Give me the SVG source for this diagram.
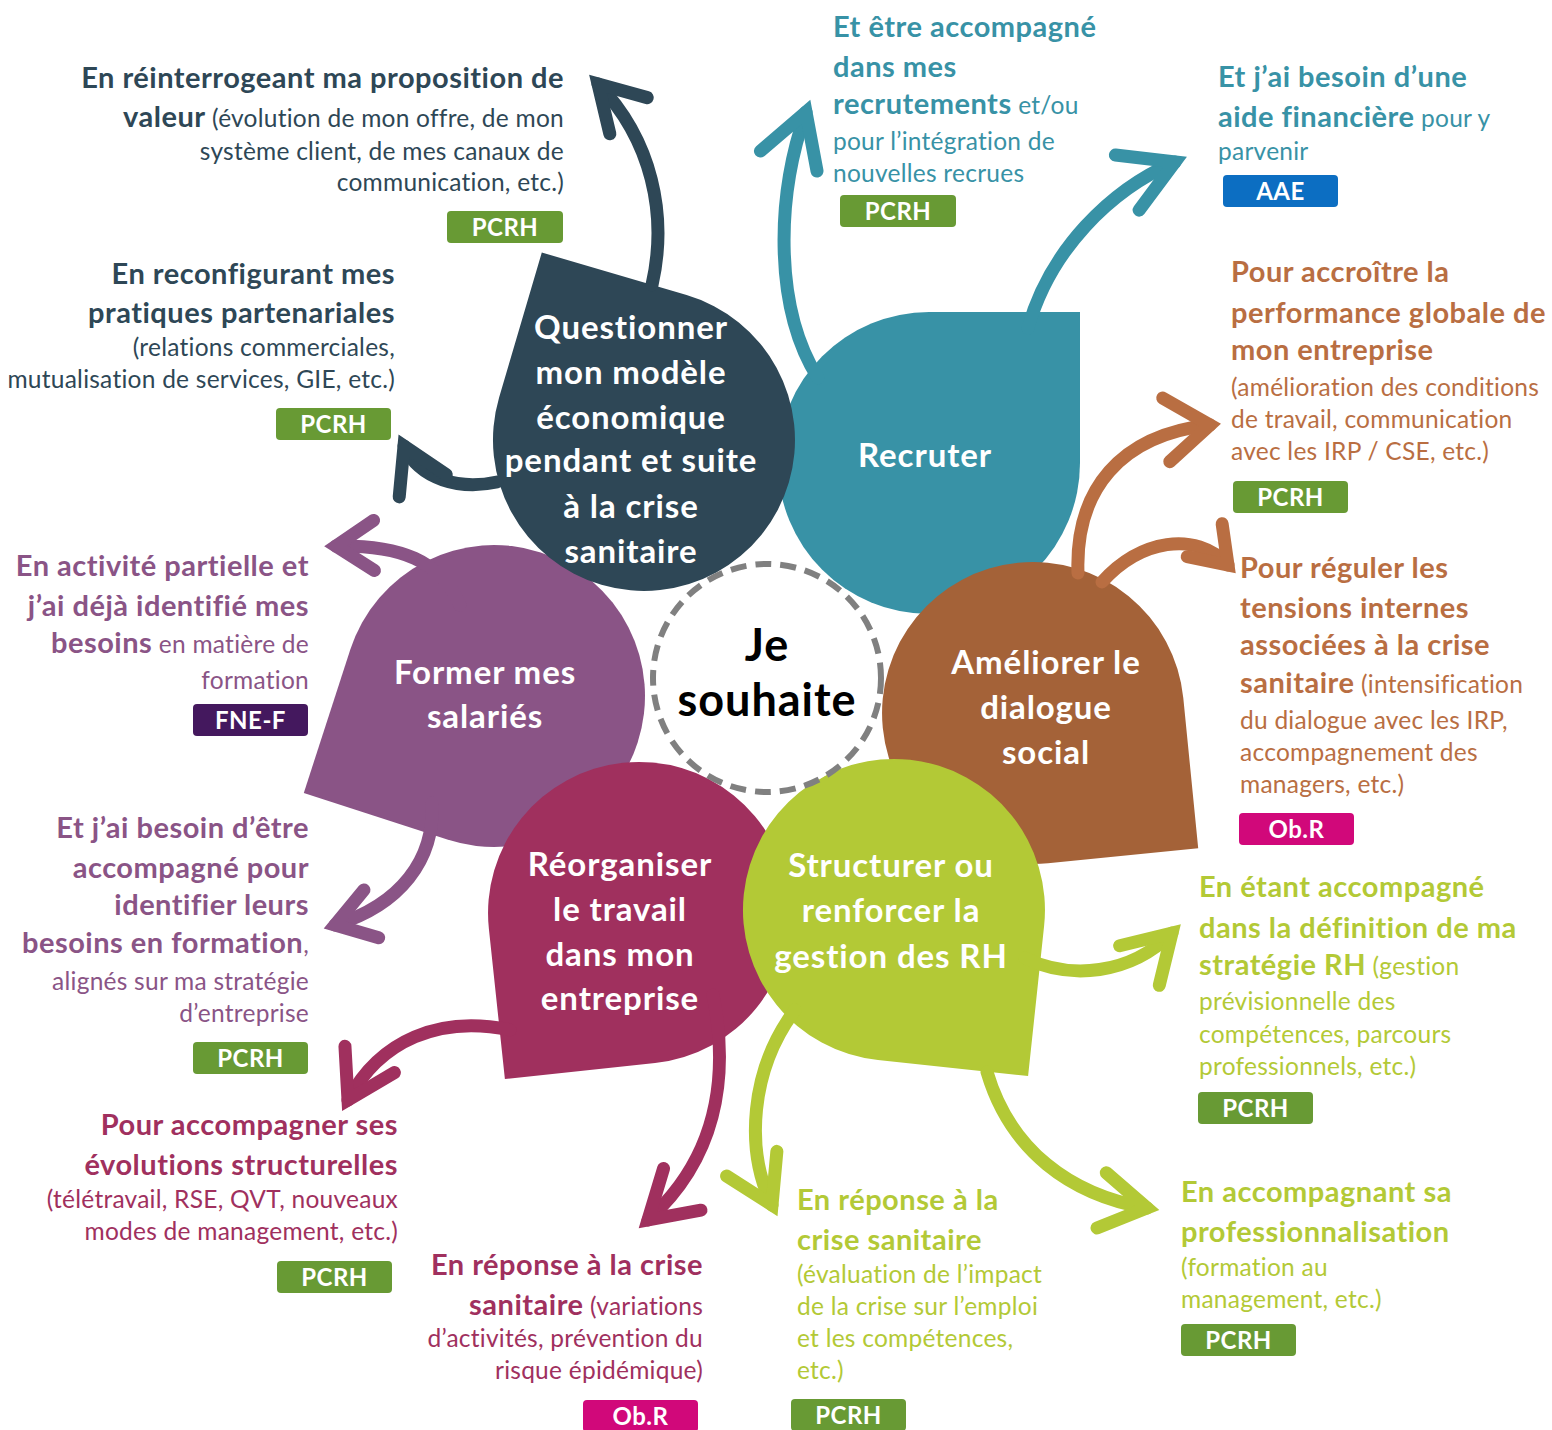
<svg xmlns="http://www.w3.org/2000/svg" width="1552" height="1430" viewBox="0 0 1552 1430">
<style>
text{font-family:Lato,"Open Sans","Liberation Sans",sans-serif}
.h{font-weight:700;font-size:29px;letter-spacing:0.5px}
.r{font-weight:400;font-size:24.5px;letter-spacing:0.25px}
.lbl{font-weight:700;font-size:33px;letter-spacing:0.9px;fill:#fff;text-anchor:middle}
.bt{font-weight:700;font-size:24px;letter-spacing:0.5px;fill:#fff;text-anchor:middle}
.ctr{font-weight:700;font-size:45px;letter-spacing:1px;fill:#000;text-anchor:middle}
.end{text-anchor:end}
.cD{fill:#2E4756}.cT{fill:#3892A6}.cP{fill:#8A5486}.cB{fill:#B96E42}.cC{fill:#A0305E}.cG{fill:#B3C936}
.arr{fill:none;stroke-linecap:round;stroke-width:13}
.ah{fill:none;stroke-width:13;stroke-linecap:round;stroke-linejoin:miter}
</style>
<defs>
<marker id="mD" markerUnits="userSpaceOnUse" markerWidth="10" markerHeight="10" refX="0" refY="0" orient="auto" overflow="visible"><path class="ah" stroke="#2E4756" d="M-44,-26 L0,0 L-44,26"/></marker>
<marker id="mT" markerUnits="userSpaceOnUse" markerWidth="10" markerHeight="10" refX="0" refY="0" orient="auto" overflow="visible"><path class="ah" stroke="#3892A6" d="M-52,-30 L0,0 L-52,30"/></marker>
<marker id="mP" markerUnits="userSpaceOnUse" markerWidth="10" markerHeight="10" refX="0" refY="0" orient="auto" overflow="visible"><path class="ah" stroke="#8A5486" d="M-38,-25 L0,0 L-38,25"/></marker>
<marker id="mB" markerUnits="userSpaceOnUse" markerWidth="10" markerHeight="10" refX="0" refY="0" orient="auto" overflow="visible"><path class="ah" stroke="#B96E42" d="M-44,-32 L0,0 L-44,32"/></marker>
<marker id="mB2" markerUnits="userSpaceOnUse" markerWidth="10" markerHeight="10" refX="0" refY="0" orient="auto" overflow="visible"><path class="ah" stroke="#B96E42" d="M-34,-24 L0,0 L-34,24"/></marker>
<marker id="mC" markerUnits="userSpaceOnUse" markerWidth="10" markerHeight="10" refX="0" refY="0" orient="auto" overflow="visible"><path class="ah" stroke="#A0305E" d="M-46,-28 L0,0 L-46,28"/></marker>
<marker id="mG" markerUnits="userSpaceOnUse" markerWidth="10" markerHeight="10" refX="0" refY="0" orient="auto" overflow="visible"><path class="ah" stroke="#B3C936" d="M-46,-28 L0,0 L-46,28"/></marker>
</defs>
<rect width="1552" height="1430" fill="#fff"/>

<g id="petal-former">
<path fill="#8A5486" d="M303.8,792.9 L350.4,649.3 A151,151 0 1 1 447.3,839.6 Z"/>
<text class="lbl" x="485" y="684">Former mes</text>
<text class="lbl" x="485" y="728">salariés</text>
</g>
<g id="petal-recruter">
<path fill="#3892A6" d="M1080,312 L1080,463 A151,151 0 1 1 929,312 Z"/>
<text class="lbl" x="925" y="467">Recruter</text>
</g>
<g id="petal-questionner">
<path fill="#2E4756" d="M541.8,252.5 L686.6,295.1 A151,151 0 1 1 499.1,397.4 Z"/>
<text class="lbl" x="631" y="339">Questionner</text>
<text class="lbl" x="631" y="384">mon modèle</text>
<text class="lbl" x="631" y="429">économique</text>
<text class="lbl" x="631" y="472">pendant et suite</text>
<text class="lbl" x="631" y="518">à la crise</text>
<text class="lbl" x="631" y="563">sanitaire</text>
</g>
<g id="petal-reorganiser">
<path fill="#A0305E" d="M504.9,1079.1 L488.9,929.1 A151,151 0 1 1 655.1,1063.1 Z"/>
<text class="lbl" x="620" y="876">Réorganiser</text>
<text class="lbl" x="620" y="921">le travail</text>
<text class="lbl" x="620" y="966">dans mon</text>
<text class="lbl" x="620" y="1010">entreprise</text>
</g>
<g id="petal-dialogue">
<path fill="#A46238" d="M1198.2,848.2 L1048,863.3 A151,151 0 1 1 1183.3,698 Z"/>
<text class="lbl" x="1046" y="674">Améliorer le</text>
<text class="lbl" x="1046" y="719">dialogue</text>
<text class="lbl" x="1046" y="764">social</text>
</g>
<g id="petal-structurer">
<path fill="#B3C936" d="M1028.1,1076.1 L878,1060.1 A151,151 0 1 1 1044.1,926.1 Z"/>
<text class="lbl" x="891" y="877">Structurer ou</text>
<text class="lbl" x="891" y="922">renforcer la</text>
<text class="lbl" x="891" y="968">gestion des RH</text>
</g>
<g id="center">
<circle cx="767" cy="678" r="114" fill="#fff" stroke="#808080" stroke-width="6" stroke-dasharray="16 9"/>
<text class="ctr" x="767" y="661">Je</text>
<text class="ctr" x="767" y="716">souhaite</text>
</g>

<g id="connectors">
<path class="arr" stroke="#2E4756" marker-end="url(#mD)" d="M652,285 C668,215 652,140 598,84"/>
<path class="arr" stroke="#2E4756" marker-end="url(#mD)" d="M497,482 C460,490 420,480 404,446"/>
<path class="arr" stroke="#3892A6" marker-end="url(#mT)" d="M818,378 C775,310 775,200 806,112"/>
<path class="arr" stroke="#3892A6" marker-end="url(#mT)" d="M1028,328 C1050,250 1110,190 1175,162"/>
<path class="arr" stroke="#B96E42" stroke-width="15" marker-end="url(#mB)" d="M1078,573 C1075,490 1120,435 1210,425"/>
<path class="arr" stroke="#B96E42" marker-end="url(#mB2)" d="M1102,582 C1140,540 1195,530 1228,565"/>
<path class="arr" stroke="#8A5486" marker-end="url(#mP)" d="M460,605 C440,560 400,545 336,546"/>
<path class="arr" stroke="#8A5486" marker-end="url(#mP)" d="M432,803 C435,860 400,905 335,925"/>
<path class="arr" stroke="#A0305E" marker-end="url(#mC)" d="M510,1030 C440,1015 380,1040 348,1100"/>
<path class="arr" stroke="#A0305E" marker-end="url(#mC)" d="M713,995 C730,1080 715,1160 648,1220"/>
<path class="arr" stroke="#B3C936" marker-end="url(#mG)" d="M795,1010 C750,1070 745,1150 772,1205"/>
<path class="arr" stroke="#B3C936" marker-end="url(#mG)" d="M987,1072 C1010,1150 1070,1195 1147,1208"/>
<path class="arr" stroke="#B3C936" marker-end="url(#mG)" d="M1025,958 C1070,980 1130,975 1172,933"/>
</g>

<g id="note-valeur" class="cD">
<text class="h end" x="564" y="88">En réinterrogeant ma proposition de</text>
<text class="end" x="564" y="127"><tspan class="h">valeur</tspan><tspan class="r"> (évolution de mon offre, de mon</tspan></text>
<text class="r end" x="564" y="160">système client, de mes canaux de</text>
<text class="r end" x="564" y="191">communication, etc.)</text>
<rect x="447" y="211" width="116" height="32" rx="4" fill="#689A34"/>
<text class="bt" x="505" y="236">PCRH</text>
</g>
<g id="note-partenariales" class="cD">
<text class="h end" x="395" y="284">En reconfigurant mes</text>
<text class="h end" x="395" y="323">pratiques partenariales</text>
<text class="r end" x="395" y="356">(relations commerciales,</text>
<text class="r end" x="395" y="388">mutualisation de services, GIE, etc.)</text>
<rect x="276" y="408" width="115" height="32" rx="4" fill="#689A34"/>
<text class="bt" x="333.5" y="433">PCRH</text>
</g>
<g id="note-recrutements" class="cT">
<text class="h" x="833" y="37">Et être accompagné</text>
<text class="h" x="833" y="77">dans mes</text>
<text x="833" y="114"><tspan class="h">recrutements</tspan><tspan class="r"> et/ou</tspan></text>
<text class="r" x="833" y="150">pour l’intégration de</text>
<text class="r" x="833" y="182">nouvelles recrues</text>
<rect x="840" y="195" width="116" height="32" rx="4" fill="#689A34"/>
<text class="bt" x="898" y="220">PCRH</text>
</g>
<g id="note-financiere" class="cT">
<text class="h" x="1218" y="87">Et j’ai besoin d’une</text>
<text x="1218" y="127"><tspan class="h">aide financière</tspan><tspan class="r"> pour y</tspan></text>
<text class="r" x="1218" y="160">parvenir</text>
<rect x="1223" y="175" width="115" height="32" rx="4" fill="#0C6EC2"/>
<text class="bt" x="1280.5" y="200">AAE</text>
</g>
<g id="note-performance" class="cB">
<text class="h" x="1231" y="282">Pour accroître la</text>
<text class="h" x="1231" y="323">performance globale de</text>
<text class="h" x="1231" y="360">mon entreprise</text>
<text class="r" x="1231" y="396">(amélioration des conditions</text>
<text class="r" x="1231" y="428">de travail, communication</text>
<text class="r" x="1231" y="460">avec les IRP / CSE, etc.)</text>
<rect x="1233" y="481" width="115" height="32" rx="4" fill="#689A34"/>
<text class="bt" x="1290.5" y="506">PCRH</text>
</g>
<g id="note-tensions" class="cB">
<text class="h" x="1240" y="578">Pour réguler les</text>
<text class="h" x="1240" y="618">tensions internes</text>
<text class="h" x="1240" y="655">associées à la crise</text>
<text x="1240" y="693"><tspan class="h">sanitaire</tspan><tspan class="r"> (intensification</tspan></text>
<text class="r" x="1240" y="729">du dialogue avec les IRP,</text>
<text class="r" x="1240" y="761">accompagnement des</text>
<text class="r" x="1240" y="793">managers, etc.)</text>
<rect x="1239" y="813" width="115" height="32" rx="4" fill="#D1087A"/>
<text class="bt" x="1296.5" y="838">Ob.R</text>
</g>
<g id="note-activite" class="cP">
<text class="h end" x="309" y="576">En activité partielle et</text>
<text class="h end" x="309" y="616">j’ai déjà identifié mes</text>
<text class="end" x="309" y="653"><tspan class="h">besoins</tspan><tspan class="r"> en matière de</tspan></text>
<text class="r end" x="309" y="689">formation</text>
<rect x="193" y="704" width="115" height="32" rx="4" fill="#44185E"/>
<text class="bt" x="250.5" y="729">FNE-F</text>
</g>
<g id="note-besoins" class="cP">
<text class="h end" x="309" y="838">Et j’ai besoin d’être</text>
<text class="h end" x="309" y="878">accompagné pour</text>
<text class="h end" x="309" y="915">identifier leurs</text>
<text class="h end" x="309" y="953">besoins en formation<tspan class="r">,</tspan></text>
<text class="r end" x="309" y="990">alignés sur ma stratégie</text>
<text class="r end" x="309" y="1022">d’entreprise</text>
<rect x="193" y="1042" width="115" height="32" rx="4" fill="#689A34"/>
<text class="bt" x="250.5" y="1067">PCRH</text>
</g>
<g id="note-structurelles" class="cC">
<text class="h end" x="398" y="1135">Pour accompagner ses</text>
<text class="h end" x="398" y="1175">évolutions structurelles</text>
<text class="r end" x="398" y="1208">(télétravail, RSE, QVT, nouveaux</text>
<text class="r end" x="398" y="1240">modes de management, etc.)</text>
<rect x="277" y="1261" width="115" height="32" rx="4" fill="#689A34"/>
<text class="bt" x="334.5" y="1286">PCRH</text>
</g>
<g id="note-crise-reorg" class="cC">
<text class="h end" x="703" y="1275">En réponse à la crise</text>
<text class="end" x="703" y="1315"><tspan class="h">sanitaire</tspan><tspan class="r"> (variations</tspan></text>
<text class="r end" x="703" y="1347">d’activités, prévention du</text>
<text class="r end" x="703" y="1379">risque épidémique)</text>
<rect x="583" y="1400" width="115" height="32" rx="4" fill="#D1087A"/>
<text class="bt" x="640.5" y="1425">Ob.R</text>
</g>
<g id="note-crise-rh" class="cG">
<text class="h" x="797" y="1210">En réponse à la</text>
<text class="h" x="797" y="1250">crise sanitaire</text>
<text class="r" x="797" y="1283">(évaluation de l’impact</text>
<text class="r" x="797" y="1315">de la crise sur l’emploi</text>
<text class="r" x="797" y="1347">et les compétences,</text>
<text class="r" x="797" y="1379">etc.)</text>
<rect x="791" y="1399" width="115" height="32" rx="4" fill="#689A34"/>
<text class="bt" x="848.5" y="1424">PCRH</text>
</g>
<g id="note-strategie" class="cG">
<text class="h" x="1199" y="897">En étant accompagné</text>
<text class="h" x="1199" y="938">dans la définition de ma</text>
<text x="1199" y="975"><tspan class="h">stratégie RH</tspan><tspan class="r"> (gestion</tspan></text>
<text class="r" x="1199" y="1010">prévisionnelle des</text>
<text class="r" x="1199" y="1043">compétences, parcours</text>
<text class="r" x="1199" y="1075">professionnels, etc.)</text>
<rect x="1198" y="1092" width="115" height="32" rx="4" fill="#689A34"/>
<text class="bt" x="1255.5" y="1117">PCRH</text>
</g>
<g id="note-professionnalisation" class="cG">
<text class="h" x="1181" y="1202">En accompagnant sa</text>
<text class="h" x="1181" y="1242">professionnalisation</text>
<text class="r" x="1181" y="1276">(formation au</text>
<text class="r" x="1181" y="1308">management, etc.)</text>
<rect x="1181" y="1324" width="115" height="32" rx="4" fill="#689A34"/>
<text class="bt" x="1238.5" y="1349">PCRH</text>
</g>
</svg>
